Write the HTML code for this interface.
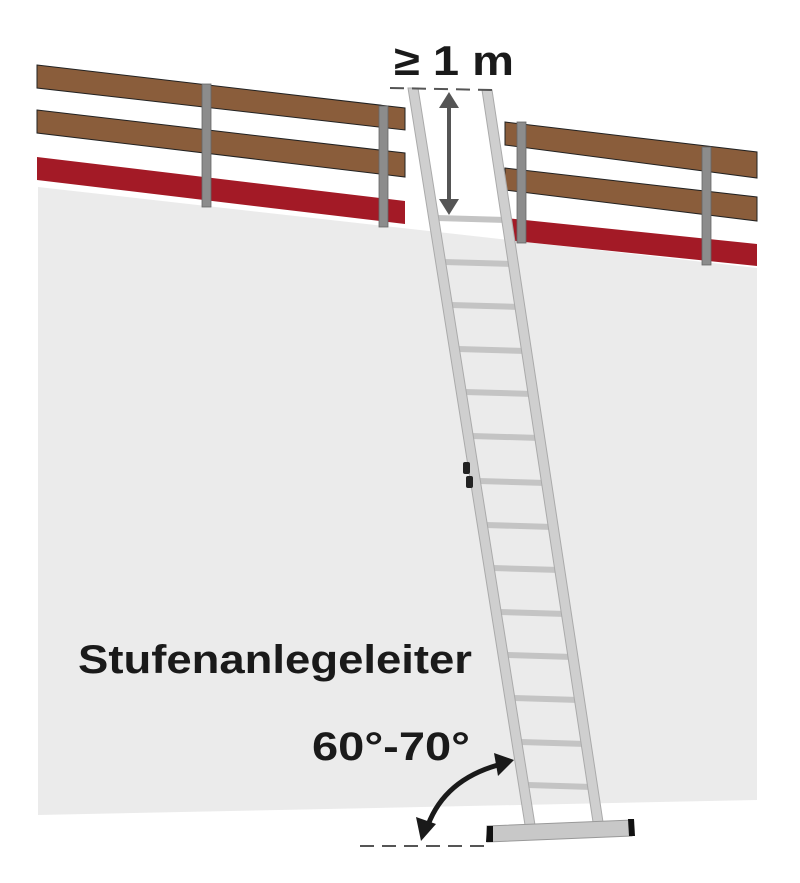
<!DOCTYPE html>
<html><head><meta charset="utf-8"><style>
html,body{margin:0;padding:0;background:#fff;}
svg{display:block}
text{font-family:"Liberation Sans",sans-serif;font-weight:bold;fill:#1a1a1a}
</style></head><body>
<svg width="800" height="883" viewBox="0 0 800 883" xmlns="http://www.w3.org/2000/svg">
<polygon points="38,187 757,268 757,800 38,815" fill="#ebebeb"/>
<g stroke="#222" stroke-width="1">
<polygon points="37,65 405,108 405,130 37,88" fill="#8a5d3b"/>
<polygon points="37,110 405,153 405,177 37,133" fill="#8a5d3b"/>
<polygon points="37,157 405,201 405,224 37,180" fill="#a31a26" stroke="none"/>
</g>
<rect x="202" y="84" width="9" height="123" fill="#8c8c8c" stroke="#666" stroke-width="0.8"/>
<rect x="379" y="106" width="9" height="121" fill="#8c8c8c" stroke="#666" stroke-width="0.8"/>
<g stroke="#222" stroke-width="1">
<polygon points="505,122 757,152 757,178 505,145" fill="#8a5d3b"/>
<polygon points="505,168 757,197 757,221 505,190" fill="#8a5d3b"/>
<polygon points="505,218 757,244 757,266 505,240" fill="#a31a26" stroke="none"/>
</g>
<rect x="517" y="122" width="9" height="121" fill="#8c8c8c" stroke="#666" stroke-width="0.8"/>
<rect x="702" y="147" width="9" height="118" fill="#8c8c8c" stroke="#666" stroke-width="0.8"/>
<g stroke="#c4c4c4" stroke-width="6">
<line x1="437" y1="218" x2="506" y2="220"/>
<line x1="444" y1="262" x2="513" y2="264"/>
<line x1="451" y1="305" x2="520" y2="307"/>
<line x1="458" y1="349" x2="526" y2="351"/>
<line x1="465" y1="392" x2="533" y2="394"/>
<line x1="472" y1="436" x2="540" y2="438"/>
<line x1="479" y1="481" x2="546" y2="483"/>
<line x1="486" y1="525" x2="553" y2="527"/>
<line x1="493" y1="568" x2="560" y2="570"/>
<line x1="500" y1="612" x2="566" y2="614"/>
<line x1="507" y1="655" x2="573" y2="657"/>
<line x1="514" y1="698" x2="579" y2="700"/>
<line x1="521" y1="742" x2="586" y2="744"/>
<line x1="528" y1="785" x2="592" y2="787"/>
</g>
<polygon points="408,88 418,88 535,825 525,825" fill="#cfcfcf" stroke="#aaa" stroke-width="1"/>
<polygon points="482,90 492,90 603,822 593,822" fill="#cfcfcf" stroke="#aaa" stroke-width="1"/>
<rect x="463" y="462" width="7" height="12" rx="2" fill="#222"/>
<rect x="466" y="476" width="7" height="12" rx="2" fill="#222"/>
<polygon points="487,826 632,820 632,836 487,842" fill="#c8c8c8" stroke="#999" stroke-width="1"/>
<polygon points="487,826 493,826 493,842 486,842" fill="#111"/>
<polygon points="628,819 634,819 635,836 629,836" fill="#111"/>
<line x1="390" y1="88" x2="492" y2="90" stroke="#555" stroke-width="2" stroke-dasharray="14,8"/>
<line x1="360" y1="846" x2="490" y2="846" stroke="#555" stroke-width="2" stroke-dasharray="14,8"/>
<line x1="449" y1="105" x2="449" y2="202" stroke="#555" stroke-width="4"/>
<polygon points="449,92 439,108 459,108" fill="#555"/>
<polygon points="449,215 439,199 459,199" fill="#555"/>
<path d="M428,825 Q445,780 498,765" fill="none" stroke="#1a1a1a" stroke-width="5"/>
<polygon points="514,760 494,753 498,776" fill="#1a1a1a"/>
<polygon points="421,841 416,817 436,824" fill="#1a1a1a"/>
<text x="394" y="75" font-size="42" textLength="120" lengthAdjust="spacingAndGlyphs">≥ 1 m</text>
<text x="78" y="673" font-size="40" textLength="394" lengthAdjust="spacingAndGlyphs">Stufenanlegeleiter</text>
<text x="312" y="760" font-size="40" textLength="158" lengthAdjust="spacingAndGlyphs">60°-70°</text>
</svg>
</body></html>
